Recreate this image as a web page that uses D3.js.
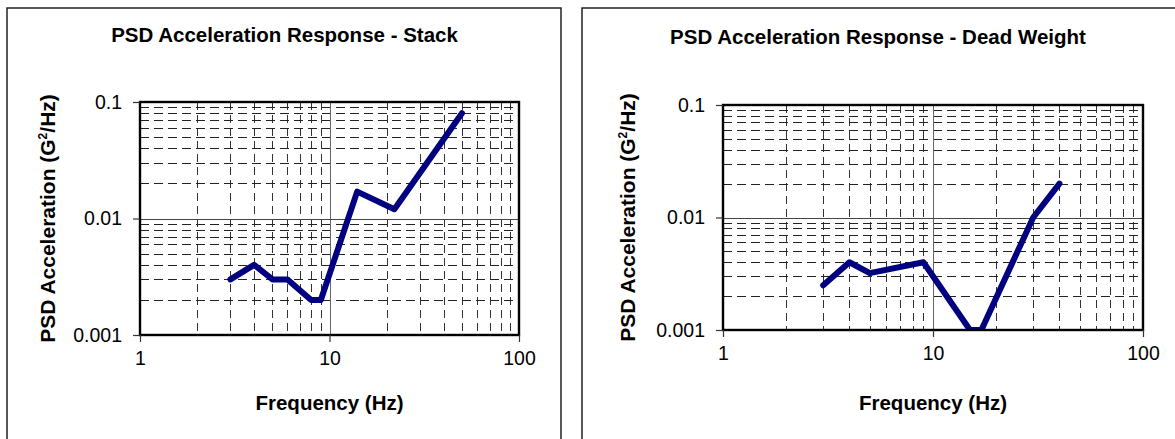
<!DOCTYPE html>
<html>
<head>
<meta charset="utf-8">
<script src="https://cdn.jsdelivr.net/npm/d3@7"></script>
<style>
  body { margin: 0; background: #fff; }
  svg { display: block; font-family: "Liberation Sans", Arial, sans-serif; }
</style>
</head>
<body>
<svg id="chart" width="1175" height="439"></svg>
<script>
// Stack response (Hz, G^2/Hz)
var stackFreq = [3, 4, 5, 6, 8, 9, 14, 22, 50];
var stackPsd  = [0.003, 0.004, 0.003, 0.003, 0.002, 0.002, 0.017, 0.012, 0.08];

// Dead weight response
var deadFreq = [3, 4, 5, 9, 15, 17, 30, 40];
var deadPsd  = [0.0025, 0.004, 0.0032, 0.004, 0.001, 0.001, 0.01, 0.02];

var xTickLabels = ['1', '10', '100'];
var yTickLabels = ['0.001', '0.01', '0.1'];
var xDomain = [1, 100];
var yDomain = [0.001, 0.1];

var titles = ['PSD Acceleration Response - Stack', 'PSD Acceleration Response - Dead Weight'];

var svg = d3.select('#chart');

function drawPanel(id, title, freq, psd, layout) {
    // outer chart box
    svg.append('rect')
        .attr('x', layout.box[0]).attr('y', layout.box[1])
        .attr('width', layout.box[2]).attr('height', layout.box[3])
        .attr('fill', 'none').attr('stroke', '#222').attr('stroke-width', 1.5);

    var p = layout.plot;
    var xScale = d3.scaleLog().domain(xDomain).range([p.l, p.r]);
    var yScale = d3.scaleLog().domain(yDomain).range([p.b, p.t]);

    var g = svg.append('g');

    // minor grid (dashed)
    var isDecade = function(v) { return Math.abs(Math.log10(v) - Math.round(Math.log10(v))) < 1e-9; };
    var xMinor = xScale.ticks().filter(function(d) { return !isDecade(d); });
    var yMinor = yScale.ticks().filter(function(d) { return !isDecade(d); });

    g.selectAll('.vgrid').data(xMinor).enter().append('line')
        .attr('x1', function(d) { return Math.round(xScale(d)) + 0.5; })
        .attr('x2', function(d) { return Math.round(xScale(d)) + 0.5; })
        .attr('y1', p.t).attr('y2', p.b)
        .attr('stroke', '#333').attr('stroke-width', 1)
        .attr('stroke-dasharray', '8,5');

    g.selectAll('.hgrid').data(yMinor).enter().append('line')
        .attr('y1', function(d) { return Math.round(yScale(d)) + 0.5; })
        .attr('y2', function(d) { return Math.round(yScale(d)) + 0.5; })
        .attr('x1', p.l).attr('x2', p.r)
        .attr('stroke', '#222').attr('stroke-width', 1)
        .attr('stroke-dasharray', '9,5');

    // major grid at 10 Hz and 0.01
    g.append('line')
        .attr('x1', Math.round(xScale(10)) + 0.5).attr('x2', Math.round(xScale(10)) + 0.5)
        .attr('y1', p.t).attr('y2', p.b)
        .attr('stroke', '#666').attr('stroke-width', 1);
    g.append('line')
        .attr('y1', Math.round(yScale(0.01)) + 0.5).attr('y2', Math.round(yScale(0.01)) + 0.5)
        .attr('x1', p.l).attr('x2', p.r)
        .attr('stroke', '#444').attr('stroke-width', 1);

    // data line, clipped to the plot area
    svg.append('clipPath').attr('id', 'clip' + id)
        .append('rect')
        .attr('x', p.l).attr('y', p.t)
        .attr('width', p.r - p.l).attr('height', p.b - p.t);

    var pts = freq.map(function(f, i) { return [f, psd[i]]; });
    var line = d3.line()
        .x(function(d) { return xScale(d[0]); })
        .y(function(d) { return yScale(d[1]); });

    svg.append('path')
        .datum(pts)
        .attr('clip-path', 'url(#clip' + id + ')')
        .attr('d', line)
        .attr('fill', 'none')
        .attr('stroke', '#000080')
        .attr('stroke-width', 6)
        .attr('stroke-linejoin', 'round')
        .attr('stroke-linecap', 'round');

    // plot border
    svg.append('rect')
        .attr('x', p.l).attr('y', p.t)
        .attr('width', p.r - p.l).attr('height', p.b - p.t)
        .attr('fill', 'none').attr('stroke', '#000').attr('stroke-width', 2.4);

    // axes
    var xAxis = d3.axisBottom(xScale)
        .tickValues([1, 10, 100])
        .tickFormat(function(d, i) { return xTickLabels[i]; })
        .tickSize(7).tickPadding(9);
    var yAxis = d3.axisLeft(yScale)
        .tickValues([0.001, 0.01, 0.1])
        .tickFormat(function(d, i) { return yTickLabels[i]; })
        .tickSize(7).tickPadding(11);

    var xg = svg.append('g').attr('transform', 'translate(0,' + p.b + ')').call(xAxis);
    var yg = svg.append('g').attr('transform', 'translate(' + p.l + ',0)').call(yAxis);
    [xg, yg].forEach(function(ax) {
        ax.select('.domain').remove();
        ax.selectAll('.tick line').attr('stroke', '#333').attr('stroke-width', 1.2);
        ax.selectAll('.tick text')
            .attr('fill', '#000')
            .style('font-family', '"Liberation Sans", Arial, sans-serif')
            .style('font-size', '19.5px');
    });

    // titles
    svg.append('text')
        .attr('x', layout.titleX).attr('y', layout.titleY)
        .attr('text-anchor', 'middle')
        .style('font-size', '20.5px').style('font-weight', 'bold')
        .text(title);

    svg.append('text')
        .attr('x', (p.l + p.r) / 2).attr('y', 410)
        .attr('text-anchor', 'middle')
        .style('font-size', '20.5px').style('font-weight', 'bold')
        .text('Frequency (Hz)');

    var yt = svg.append('text')
        .attr('transform', 'translate(' + layout.yTitleX + ',' + ((p.t + p.b) / 2) + ') rotate(-90)')
        .attr('text-anchor', 'middle')
        .style('font-size', '21px').style('font-weight', 'bold');
    yt.append('tspan').text('PSD Acceleration (G');
    yt.append('tspan').attr('dy', -8).style('font-size', '12px').text('2');
    yt.append('tspan').attr('dy', 8).text('/Hz)');
}

drawPanel('a', titles[0], stackFreq, stackPsd, {
    box: [7, 8, 554, 460],
    plot: {l: 140, r: 519, t: 102, b: 335},
    titleX: 284.5, titleY: 42,
    yTitleX: 55
});

drawPanel('b', titles[1], deadFreq, deadPsd, {
    box: [582, 8, 620, 460],
    plot: {l: 723, r: 1143, t: 105, b: 330},
    titleX: 878, titleY: 44,
    yTitleX: 635
});
</script>
</body>
</html>
